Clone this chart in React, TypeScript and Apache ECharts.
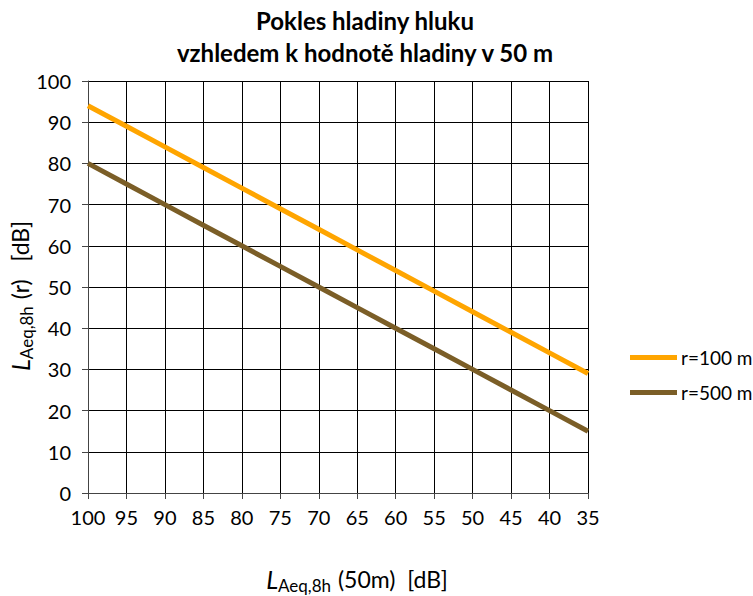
import React, { useEffect, useRef } from "react";
import * as echarts from "echarts";

const xValues = [100, 95, 90, 85, 80, 75, 70, 65, 60, 55, 50, 45, 40, 35];
const r100 = [94, 89, 84, 79, 74, 69, 64, 59, 54, 49, 44, 39, 34, 29];
const r500 = [80, 75, 70, 65, 60, 55, 50, 45, 40, 35, 30, 25, 20, 15];
const seriesNames = ["r=100 m", "r=500 m"];
const titleLines = ["Pokles hladiny hluku", "vzhledem k hodnotě hladiny v 50 m"];

const FONT = "Lato, 'Open Sans', sans-serif";

export default function App() {
  const ref = useRef<HTMLDivElement>(null);
  useEffect(() => {
    if (!ref.current) return;
    const chart = echarts.init(ref.current, undefined, { renderer: "svg" });
    const rich = {
      L: { fontSize: 25, fontStyle: "italic", fontFamily: FONT, color: "#000", lineHeight: 28 },
      s: { fontSize: 17, fontFamily: FONT, color: "#000", lineHeight: 28, padding: [13, 1, 0, 0] },
      n: { fontSize: 23, fontFamily: FONT, color: "#000", lineHeight: 28 },
    };
    chart.setOption({
      animation: false,
      backgroundColor: "#fff",
      textStyle: { fontFamily: FONT },
      grid: { left: 88, right: 165, top: 81, bottom: 103, containLabel: false },
      legend: {
        orient: "vertical",
        left: 625,
        top: 343,
        itemGap: 16,
        itemWidth: 47,
        itemHeight: 5,
        icon: "rect",
        textStyle: { fontSize: 19, color: "#000", fontFamily: FONT, padding: [0, 0, 0, -1] },
        data: seriesNames,
      },
      xAxis: {
        type: "value",
        inverse: true,
        min: 35,
        max: 100,
        interval: 5,
        axisLine: { onZero: false, lineStyle: { color: "#444", width: 1 } },
        axisTick: { show: true, length: 6, lineStyle: { color: "#444" } },
        axisLabel: { fontSize: 20, color: "#000", margin: 14, fontFamily: FONT },
        splitLine: { show: true, lineStyle: { color: "#000", width: 1 } },
      },
      yAxis: {
        type: "value",
        min: 0,
        max: 100,
        interval: 10,
        axisLine: { show: true, lineStyle: { color: "#444", width: 1 } },
        axisTick: { show: true, length: 6, lineStyle: { color: "#444" } },
        axisLabel: { fontSize: 20, color: "#000", margin: 17, fontFamily: FONT },
        splitLine: { show: true, lineStyle: { color: "#000", width: 1 } },
      },
      graphic: [
        {
          type: "text",
          x: 365,
          y: 4,
          style: {
            text: titleLines.join("\n"),
            font: `bold 24px ${FONT}`,
            fill: "#000",
            align: "center",
            lineHeight: 32,
          },
        },
        {
          type: "text",
          x: 357,
          y: 565,
          style: {
            text: "{L|L}{s|Aeq,8h}{n| (50m)  [dB]}",
            align: "center",
            verticalAlign: "top",
            rich,
          },
        },
        {
          type: "text",
          x: 6,
          y: 296,
          rotation: Math.PI / 2,
          style: {
            text: "{L|L}{s|Aeq,8h}{n| (r)   [dB]}",
            align: "center",
            verticalAlign: "top",
            rich,
          },
        },
      ],
      series: [
        {
          name: seriesNames[0],
          type: "line",
          data: xValues.map((x, i) => [x, r100[i]]),
          showSymbol: false,
          symbol: "none",
          lineStyle: { width: 5, color: "#FFA500" },
          itemStyle: { color: "#FFA500" },
        },
        {
          name: seriesNames[1],
          type: "line",
          data: xValues.map((x, i) => [x, r500[i]]),
          showSymbol: false,
          symbol: "none",
          lineStyle: { width: 5, color: "#7B5E27" },
          itemStyle: { color: "#7B5E27" },
        },
      ],
    });
    return () => chart.dispose();
  }, []);
  return (
    <div
      ref={ref}
      style={{ position: "absolute", left: 0, top: 0, width: 753, height: 596 }}
    />
  );
}
